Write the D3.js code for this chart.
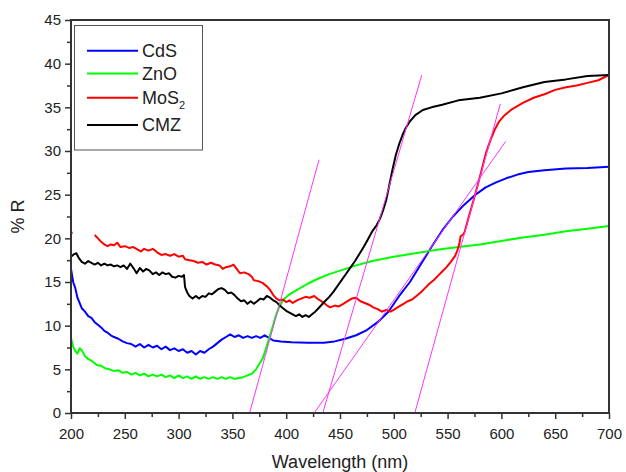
<!DOCTYPE html>
<html>
  <head>
    <title>Reflectance spectra</title>
    <script src="https://d3js.org/d3.v7.min.js"></script>
    <style>
      body { margin: 0; background: #fff; }
      text { font-family: "Liberation Sans", Arial, sans-serif; fill: #222; }
      .axis .domain { display: none; }
      .axis line { stroke: #333; stroke-width: 1.5; }
      .axis text { font-size: 15px; fill: #222; }
      .frame { fill: none; stroke: #333; stroke-width: 2; }
      .curve { fill: none; stroke-width: 2; stroke-linejoin: round; }
      .tangent { stroke: #ff33ff; stroke-width: 1; }
    </style>
  </head>
  <body>
    <svg width="626" height="472"></svg>
    <script>
      // [wavelength nm, %R]
      const cdsData = [[200,16.5],[202,15.0],[204,14.3],[206,13.2],[208,12.6],[210,12.0],[213,11.6],[216,11.1],[219,10.9],[222,10.4],[225,10.1],[228,9.8],[231,9.4],[234,9.2],[237,8.9],[240,8.7],[244,8.5],[248,8.2],[252,8.0],[256,7.9],[260,7.6],[264,7.9],[268,7.5],[272,7.8],[276,7.5],[280,7.7],[284,7.3],[288,7.6],[292,7.2],[296,7.4],[300,7.1],[304,7.3],[308,6.9],[312,7.1],[316,6.7],[320,7.1],[324,6.9],[328,7.3],[332,7.6],[336,8.0],[340,8.4],[344,8.7],[348,9.0],[352,8.7],[356,8.9],[360,8.6],[364,8.8],[368,8.6],[372,8.8],[376,8.6],[380,8.9],[384,8.6],[388,8.3],[395,8.2],[405,8.1],[420,8.05],[435,8.05],[445,8.2],[455,8.5],[465,8.9],[475,9.5],[485,10.4],[495,11.6],[505,13.4],[515,15.0],[525,17.0],[535,19.0],[545,20.9],[555,22.5],[565,23.8],[575,24.9],[585,25.8],[595,26.4],[605,26.9],[615,27.3],[625,27.6],[640,27.8],[660,28.0],[680,28.05],[700,28.2]];

      const znoData = [[200,8.6],[202,7.6],[204,7.1],[206,6.8],[208,7.4],[210,7.2],[213,6.5],[216,6.2],[220,5.9],[224,5.5],[228,5.4],[232,5.1],[236,5.0],[240,4.8],[244,4.9],[248,4.6],[252,4.7],[256,4.4],[260,4.6],[264,4.3],[268,4.5],[272,4.2],[276,4.4],[280,4.2],[284,4.4],[288,4.1],[292,4.3],[296,4.0],[300,4.3],[304,4.0],[308,4.2],[312,3.9],[316,4.2],[320,3.9],[324,4.1],[328,3.9],[332,4.1],[336,3.9],[340,4.1],[344,3.9],[348,4.1],[352,3.9],[356,4.0],[360,4.1],[364,4.3],[368,4.5],[372,5.0],[375,5.6],[378,6.2],[381,7.3],[384,8.5],[387,9.7],[390,11.0],[393,12.0],[397,12.9],[402,13.5],[410,14.1],[420,14.8],[430,15.4],[440,15.9],[450,16.3],[465,16.9],[480,17.4],[500,17.9],[520,18.3],[540,18.7],[560,19.0],[580,19.3],[600,19.7],[620,20.1],[640,20.4],[660,20.8],[680,21.1],[700,21.4]];

      const mos2Data = [[200,20.8],[201,20.5],[210,null],[222,20.4],[225,20.0],[228,19.6],[231,19.3],[234,19.1],[237,19.3],[240,19.2],[243,19.5],[246,19.0],[250,19.1],[254,18.9],[258,19.0],[262,18.7],[265,18.5],[268,18.8],[272,18.6],[276,18.8],[280,18.4],[284,18.1],[288,18.2],[292,18.0],[296,18.2],[300,17.9],[304,18.0],[306,17.6],[310,17.5],[314,17.4],[318,17.2],[322,17.3],[326,17.0],[330,17.2],[334,17.0],[338,16.9],[341,16.5],[344,16.7],[348,16.8],[351,17.0],[354,16.5],[357,16.0],[361,16.1],[365,15.9],[368,15.6],[370,15.2],[374,15.1],[378,14.9],[382,14.5],[385,14.1],[388,13.5],[391,13.1],[394,12.9],[397,13.0],[400,12.7],[403,12.9],[406,12.6],[410,12.9],[414,13.1],[418,13.3],[422,13.2],[426,13.4],[430,13.0],[434,12.7],[438,12.3],[441,12.1],[445,12.3],[449,12.2],[453,12.5],[457,12.8],[461,13.1],[465,13.2],[469,12.8],[473,12.6],[477,12.4],[481,12.1],[485,11.9],[489,11.6],[493,11.8],[497,11.6],[501,11.9],[505,12.2],[509,12.5],[513,12.8],[517,13.0],[521,13.4],[525,13.8],[529,14.3],[533,14.8],[537,15.2],[541,15.7],[545,16.2],[549,16.7],[553,17.3],[557,18.0],[559,18.6],[561,19.4],[562,20.2],[565,20.5],[566,20.8],[570,22.6],[574,24.3],[578,26.1],[582,28.0],[586,29.9],[590,31.3],[594,32.5],[598,33.4],[603,34.1],[610,34.8],[620,35.5],[630,36.1],[640,36.5],[650,37.0],[660,37.3],[670,37.5],[680,37.8],[690,38.1],[700,38.7]];

      const cmzData = [[200,17.9],[203,18.2],[205,18.3],[207,17.8],[210,17.3],[213,17.1],[216,17.4],[219,17.2],[222,17.0],[225,17.2],[228,16.9],[231,17.1],[234,16.9],[237,17.0],[240,16.8],[243,16.9],[246,16.7],[249,16.9],[252,16.5],[255,17.1],[258,16.6],[261,16.0],[264,16.6],[267,16.2],[270,16.5],[273,16.3],[276,15.9],[279,16.1],[282,15.8],[285,16.1],[288,15.9],[291,16.0],[294,15.6],[297,15.5],[300,15.7],[303,15.6],[305,15.8],[306,14.4],[308,13.8],[310,13.4],[313,13.1],[316,13.4],[319,13.1],[322,13.4],[325,13.3],[328,13.7],[331,13.6],[334,13.9],[337,14.2],[340,14.3],[343,14.1],[346,13.7],[349,13.8],[352,13.5],[355,13.1],[358,12.8],[361,12.9],[364,12.5],[367,12.8],[370,12.5],[373,12.8],[376,13.1],[379,13.0],[382,13.4],[385,13.2],[388,12.9],[391,12.7],[394,12.3],[397,12.0],[400,11.7],[403,11.5],[406,11.3],[409,11.1],[412,11.3],[415,11.0],[418,11.2],[421,11.0],[424,11.3],[427,11.6],[430,12.0],[433,12.4],[436,12.8],[440,13.3],[444,13.9],[448,14.6],[452,15.3],[456,16.0],[460,16.7],[464,17.4],[468,18.2],[472,19.0],[476,19.9],[480,20.8],[484,21.5],[487,22.2],[490,23.2],[493,24.4],[496,26.2],[499,28.0],[502,29.6],[505,30.8],[508,31.8],[511,32.6],[515,33.4],[520,34.1],[527,34.7],[535,35.0],[545,35.3],[560,35.8],[580,36.1],[600,36.6],[620,37.3],[640,37.9],[660,38.2],[680,38.6],[700,38.7]];

      // tangent lines used for band-gap extrapolation: [x1, y1, x2, y2]
      const tangents = [
        [366, 0, 430.5, 29.0],
        [434, 0, 526, 38.7],
        [426, 0, 604, 31.1],
        [519.5, 0, 599, 35.4]
      ];

      const seriesNames = ["CdS", "ZnO", "MoS2", "CMZ"];
      const seriesColors = ["#0000ff", "#00ff00", "#ff0000", "#000000"];
      const seriesData = [cdsData, znoData, mos2Data, cmzData];

      const xTicks = d3.range(200, 701, 50);
      const yTicks = d3.range(0, 46, 5);

      const svg = d3.select("svg");
      const plotLeft = 71, plotRight = 609, plotTop = 20, plotBottom = 413;

      const x = d3.scaleLinear().domain([200, 700]).range([plotLeft, plotRight]);
      const y = d3.scaleLinear().domain([0, 45]).range([plotBottom, plotTop]);

      // minor ticks
      svg.append("g")
        .attr("class", "axis")
        .attr("transform", `translate(0, ${plotBottom})`)
        .call(d3.axisBottom(x).tickValues(d3.range(225, 700, 50)).tickSize(4).tickFormat(""));
      svg.append("g")
        .attr("class", "axis")
        .attr("transform", `translate(${plotLeft}, 0)`)
        .call(d3.axisLeft(y).tickValues(d3.range(2.5, 45, 5)).tickSize(4).tickFormat(""));

      // major ticks
      svg.append("g")
        .attr("class", "axis")
        .attr("transform", `translate(0, ${plotBottom})`)
        .call(d3.axisBottom(x).tickValues(xTicks).tickSize(6).tickPadding(9));
      svg.append("g")
        .attr("class", "axis")
        .attr("transform", `translate(${plotLeft}, 0)`)
        .call(d3.axisLeft(y).tickValues(yTicks).tickSize(6).tickPadding(4));

      const line = d3.line()
        .defined(d => d[1] !== null)
        .x(d => x(d[0]))
        .y(d => y(d[1]));

      svg.append("g")
        .selectAll("path")
        .data(seriesData)
        .join("path")
          .attr("class", "curve")
          .attr("stroke", (d, i) => seriesColors[i])
          .attr("d", line);

      svg.append("g")
        .selectAll("line")
        .data(tangents)
        .join("line")
          .attr("class", "tangent")
          .attr("x1", d => x(d[0]))
          .attr("y1", d => y(d[1]))
          .attr("x2", d => x(d[2]))
          .attr("y2", d => y(d[3]));

      svg.append("rect")
        .attr("class", "frame")
        .attr("x", plotLeft)
        .attr("y", plotTop)
        .attr("width", plotRight - plotLeft)
        .attr("height", plotBottom - plotTop);

      // axis titles
      svg.append("text")
        .attr("x", (plotLeft + plotRight) / 2)
        .attr("y", 468)
        .attr("text-anchor", "middle")
        .style("font-size", "18px")
        .text("Wavelength (nm)");
      svg.append("text")
        .attr("transform", `translate(24, ${(plotTop + plotBottom) / 2}) rotate(-90)`)
        .attr("text-anchor", "middle")
        .style("font-size", "18px")
        .text("% R");

      // legend
      const legend = svg.append("g");
      legend.append("rect")
        .attr("x", 74.5).attr("y", 25.5)
        .attr("width", 128).attr("height", 124.5)
        .attr("fill", "#fff")
        .attr("stroke", "#555")
        .attr("stroke-width", 1);
      const rowY = [50.7, 73.5, 97.7, 125];
      const rows = legend.selectAll(".row")
        .data(seriesNames)
        .join("g")
          .attr("class", "row")
          .attr("transform", (d, i) => `translate(0, ${rowY[i]})`);
      rows.append("line")
        .attr("x1", 87).attr("x2", 138)
        .attr("stroke", (d, i) => seriesColors[i])
        .attr("stroke-width", 2);
      const labels = rows.append("text")
        .attr("x", 142)
        .attr("dy", "0.35em")
        .style("font-size", "18px");
      labels.each(function(d) {
        const t = d3.select(this);
        if (d === "MoS2") {
          t.append("tspan").text("MoS");
          t.append("tspan").attr("dy", 5).style("font-size", "11px").text("2");
        } else {
          t.text(d);
        }
      });
    </script>
  </body>
</html>
